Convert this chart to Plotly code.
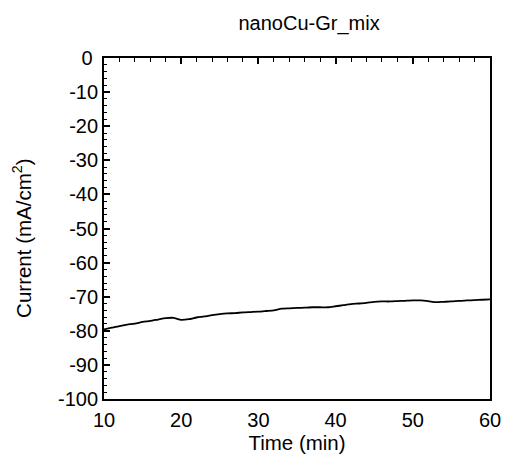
import plotly.graph_objects as go

time_min = [10, 11, 12, 13, 14, 15, 16, 17, 18, 19, 20, 21, 22, 23, 24, 25, 26, 27, 28, 29, 30,
            31, 32, 33, 34, 35, 36, 37, 38, 39, 40, 41, 42, 43, 44, 45, 46, 47, 48, 49, 50,
            51, 52, 53, 54, 55, 56, 57, 58, 59, 60]
current = [-79.6, -79.1, -78.6, -78.2, -77.9, -77.4, -77.1, -76.7, -76.3, -76.2, -76.8, -76.6, -76.1,
           -75.8, -75.4, -75.1, -74.9, -74.8, -74.6, -74.5, -74.4, -74.2, -74.0, -73.5, -73.4,
           -73.3, -73.2, -73.1, -73.1, -73.1, -72.8, -72.5, -72.2, -72.0, -71.8, -71.5, -71.4,
           -71.4, -71.3, -71.2, -71.1, -71.1, -71.3, -71.6, -71.5, -71.4, -71.2, -71.1, -71.0,
           -70.9, -70.8]
x_ticks = [10, 20, 30, 40, 50, 60]
y_ticks = [0, -10, -20, -30, -40, -50, -60, -70, -80, -90, -100]
y_ticktext = ["0\u00a0", "-10", "-20", "-30", "-40", "-50", "-60", "-70", "-80", "-90", "-100"]

font = "Liberation Sans, Arial, sans-serif"

fig = go.Figure()
fig.add_trace(go.Scatter(x=time_min, y=current, mode="lines",
                         line=dict(color="black", width=1.8, shape="spline", smoothing=0.6),
                         showlegend=False))
# invisible trace on top axis to force it to render
fig.add_trace(go.Scatter(x=[10, 60], y=[0, 0], xaxis="x2", mode="lines",
                         line=dict(width=0), showlegend=False, hoverinfo="skip"))

fig.update_layout(
    width=505, height=467,
    margin=dict(l=104, r=15, t=58, b=68, autoexpand=False),
    paper_bgcolor="white", plot_bgcolor="white",
    font=dict(family=font, size=20, color="black"),
    title=dict(text="nanoCu-Gr_mix", x=0.612, xanchor="center", y=0.95, yanchor="middle",
               font=dict(size=20, family=font, color="black")),
    xaxis=dict(range=[10, 60], tickvals=x_ticks, ticks="", showline=True, linecolor="black",
               linewidth=1.8, mirror=True, showgrid=False, zeroline=False, automargin=False,
               ticklabelstandoff=2,
               title=dict(text="Time (min)", standoff=2, font=dict(size=20.5)),
               tickfont=dict(size=20)),
    xaxis2=dict(range=[10, 60], overlaying="x", side="top", tickvals=x_ticks, ticks="inside",
                ticklen=6, tickwidth=1.8, tickcolor="black", showticklabels=False,
                showgrid=False, zeroline=False, showline=False, automargin=False,
                minor=dict(ticks="inside", dtick=2, tick0=10, ticklen=3.5, tickwidth=1.4, tickcolor="black")),
    yaxis=dict(range=[-100, 0], tickvals=y_ticks, ticktext=y_ticktext, ticks="inside", ticklen=6,
               tickwidth=1.8, tickcolor="black", showline=True, linecolor="black", linewidth=1.8,
               mirror=True, showgrid=False, zeroline=False, automargin=False,
               minor=dict(ticks="inside", dtick=2, tick0=0, ticklen=3.5, tickwidth=1.4, tickcolor="black"),
               tickfont=dict(size=20)),
    annotations=[dict(text="Current (mA/cm<sup>2</sup>)", textangle=-90, xref="paper", yref="paper",
                      x=-0.212, y=0.47, xanchor="center", yanchor="middle", showarrow=False,
                      font=dict(size=20.5, family=font, color="black"))],
)

fig.write_html("out.html")
